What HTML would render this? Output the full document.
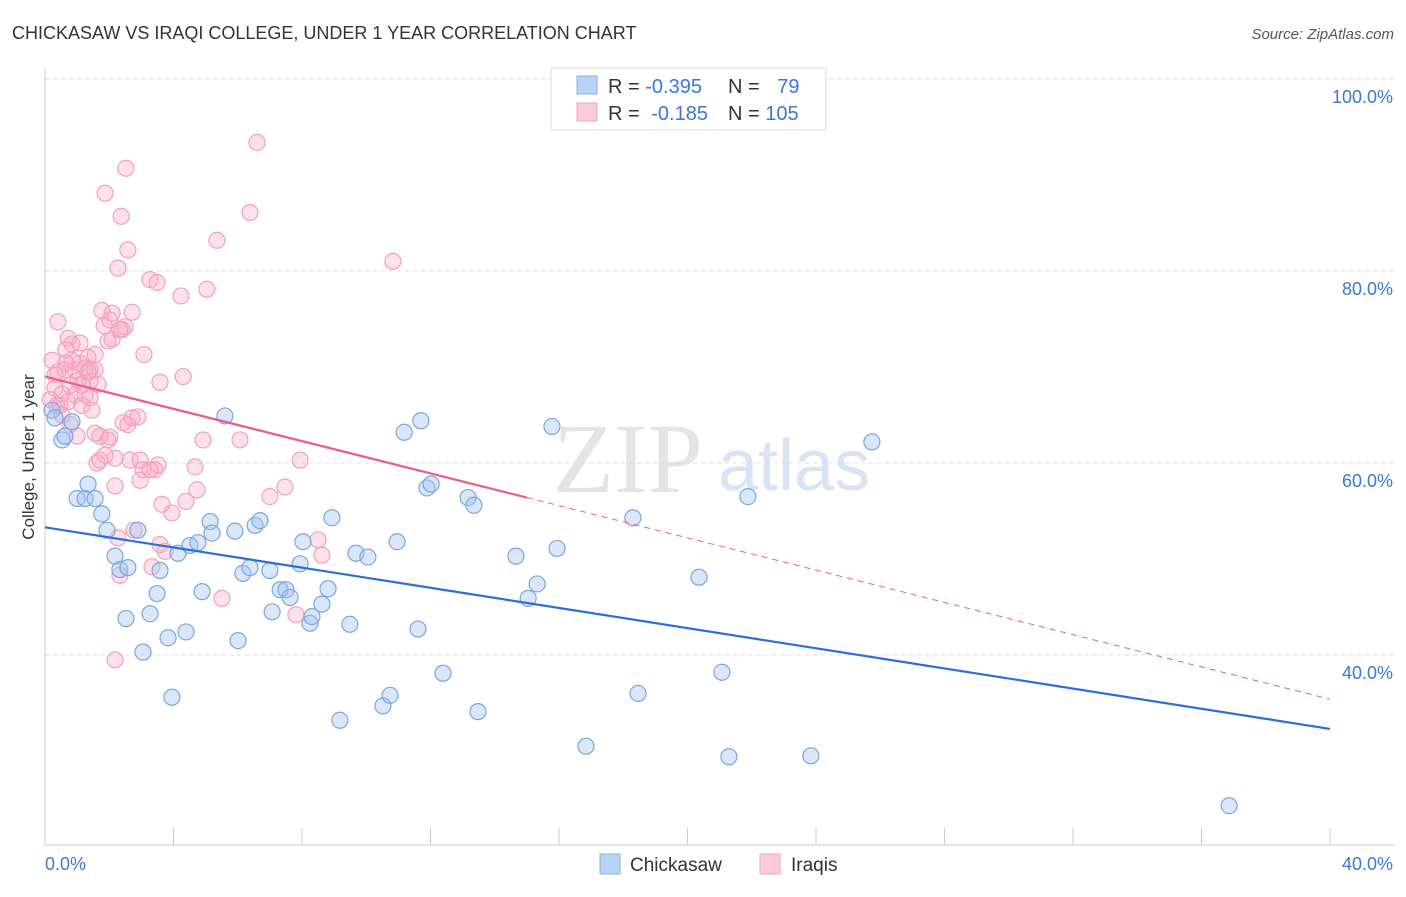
<!DOCTYPE html>
<html><head><meta charset="utf-8"><style>
body{margin:0;background:#fff;font-family:"Liberation Sans",sans-serif;}
</style></head><body>
<svg id="c" width="1406" height="892" xmlns="http://www.w3.org/2000/svg">
<text x="12" y="39" font-size="18" fill="#333">CHICKASAW VS IRAQI COLLEGE, UNDER 1 YEAR CORRELATION CHART</text>
<text x="1394" y="39" font-size="15" fill="#555" text-anchor="end" font-style="italic">Source: ZipAtlas.com</text>
<text x="553" y="492" font-size="100" fill="#e4e4e4" font-family="Liberation Serif,serif">ZIP</text>
<text x="718" y="490" font-size="72" fill="#d6e4f5">atlas</text>
<g id="grid"></g><g id="axes"></g><g id="pts"></g><g id="trend"></g>
<text transform="translate(34,457) rotate(-90)" font-size="17" fill="#333" text-anchor="middle">College, Under 1 year</text>
<g>
<rect x="551" y="68" width="275" height="62" fill="#fff" stroke="#ddd"/>
<rect x="577" y="76" width="20" height="18" fill="#b8d3f5" stroke="#8ab2e6"/>
<rect x="577" y="103" width="20" height="18" fill="#fccadb" stroke="#f3a3bf"/>
<text x="608" y="93" font-size="20" fill="#333">R = <tspan fill="#3b78d8">-0.395</tspan></text>
<text x="728" y="93" font-size="20" fill="#333">N = <tspan fill="#3b78d8" dx="12">79</tspan></text>
<text x="608" y="120" font-size="20" fill="#333">R = <tspan fill="#3b78d8" dx="6">-0.185</tspan></text>
<text x="728" y="120" font-size="20" fill="#333">N = <tspan fill="#3b78d8">105</tspan></text>
</g>
<g>
<rect x="600" y="854" width="20" height="20" fill="#b8d3f5" stroke="#8ab2e6"/>
<text x="630" y="871" font-size="19" fill="#333">Chickasaw</text>
<rect x="760" y="854" width="20" height="20" fill="#fccadb" stroke="#f3a3bf"/>
<text x="791" y="871" font-size="19" fill="#333">Iraqis</text>
</g>
</svg>
<script>
const bluePx=[[52,410],[55,418],[62,440],[65,436],[72,422],[77,499],[85,499],[88,484],[95,499],[102,514],[107,530],[115,556],[120,570],[128,568],[138,530],[126,619],[143,652],[150,614],[157,594],[160,571],[168,638],[172,697],[178,553],[186,632],[190,546],[198,543],[202,592],[210,522],[212,533],[225,416],[235,531],[238,641],[243,573],[250,568],[255,525],[260,521],[270,571],[272,612],[280,590],[286,590],[290,597],[300,564],[303,542],[310,623],[312,617],[322,604],[328,589],[332,518],[340,720],[350,624],[356,553],[368,557],[383,706],[390,695],[397,542],[404,432],[418,629],[421,421],[427,488],[431,484],[443,673],[468,498],[474,505],[478,712],[516,556],[528,598],[537,584],[552,427],[557,548],[586,746],[633,518],[638,693],[699,577],[722,672],[729,757],[748,497],[811,756],[872,442],[1229,806]];
const pinkPx=[[52,360],[55,375],[58,322],[55,388],[50,400],[57,405],[62,394],[66,363],[68,402],[70,425],[72,344],[75,370],[77,436],[80,343],[82,385],[85,368],[88,357],[90,381],[92,410],[95,370],[98,384],[97,463],[100,460],[102,310],[104,326],[105,193],[108,440],[110,437],[112,313],[112,339],[115,486],[118,538],[115,660],[118,268],[120,575],[121,216],[122,330],[125,327],[126,168],[128,250],[128,425],[130,460],[132,312],[134,530],[140,480],[143,470],[144,355],[150,280],[155,470],[157,283],[158,465],[160,382],[162,504],[165,551],[172,513],[181,296],[183,377],[186,501],[195,467],[197,490],[203,440],[207,289],[217,240],[222,598],[240,440],[250,212],[257,142],[270,497],[285,487],[296,615],[300,460],[318,540],[322,555],[393,261],[60,405],[65,370],[62,415],[75,395],[80,363],[85,395],[90,370],[95,355],[72,360],[108,341],[123,423],[132,418],[115,458],[110,320],[140,460],[152,567],[160,545],[105,455],[68,338],[78,380],[88,372],[120,330],[100,436],[95,433],[138,417],[150,470],[90,398],[70,385],[58,372],[66,350],[82,405]];
const blueX=bluePx.map(p=>+((p[0]-45)/32.125).toFixed(2));
const blueY=bluePx.map(p=>+((1039-p[1])/9.6).toFixed(1));
const pinkX=pinkPx.map(p=>+((p[0]-45)/32.125).toFixed(2));
const pinkY=pinkPx.map(p=>+((1039-p[1])/9.6).toFixed(1));
const yTicks=[100,80,60,40];
const yTickLabels=["100.0%","80.0%","60.0%","40.0%"];
const xTicks=[0,4,8,12,16,20,24,28,32,36,40];
const blueTrend=[[0,53.3],[40,32.3]];
const pinkTrend=[[0,69.0],[15,56.4],[40,35.4]];
const sx=v=>45+v*32.125, sy=v=>1039-v*9.6;
const NS="http://www.w3.org/2000/svg";
function mk(t,a,parent){const e=document.createElementNS(NS,t);for(const k in a)e.setAttribute(k,a[k]);document.getElementById(parent).appendChild(e);return e;}
yTicks.forEach((v,i)=>{
 const l=mk('line',{x1:45,x2:1394,y1:sy(v),y2:sy(v),stroke:'#ddd','stroke-dasharray':'4,4'},'grid');
 
 
 const t=mk('text',{x:1393,y:sy(v)+24,'font-size':18,fill:'#3b78d8','text-anchor':'end'},'axes');t.textContent=yTickLabels[i];
 
 
});
mk('line',{x1:45,x2:45,y1:68,y2:845,stroke:'#ccc'},'axes');
mk('line',{x1:45,x2:1394,y1:845,y2:845,stroke:'#ccc'},'axes');
xTicks.forEach(v=>{const l=mk('line',{x1:sx(v),x2:sx(v),y1:828,y2:845,stroke:'#ccc'},'axes');
 
 });
let t=mk('text',{x:45,y:870,'font-size':18,fill:'#3b78d8'},'axes');t.textContent='0.0%';


t=mk('text',{x:1393,y:870,'font-size':18,fill:'#3b78d8','text-anchor':'end'},'axes');t.textContent='40.0%';


pinkX.forEach((x,i)=>{const c=mk('circle',{cx:sx(x),cy:sy(pinkY[i]),r:8,fill:'rgba(248,170,196,0.35)',stroke:'#f3a0bd','stroke-width':1.2},'pts');
 
 });
blueX.forEach((x,i)=>{const c=mk('circle',{cx:sx(x),cy:sy(blueY[i]),r:8,fill:'rgba(160,196,240,0.4)',stroke:'#7aa6e0','stroke-width':1.2},'pts');
 
 });
let L=mk('line',{x1:sx(blueTrend[0][0]),y1:sy(blueTrend[0][1]),x2:sx(blueTrend[1][0]),y2:sy(blueTrend[1][1]),stroke:'#2a6fd6','stroke-width':2.2},'trend');


L=mk('line',{x1:sx(pinkTrend[0][0]),y1:sy(pinkTrend[0][1]),x2:sx(pinkTrend[1][0]),y2:sy(pinkTrend[1][1]),stroke:'#e8608a','stroke-width':2.2},'trend');


L=mk('line',{x1:sx(pinkTrend[1][0]),y1:sy(pinkTrend[1][1]),x2:sx(pinkTrend[2][0]),y2:sy(pinkTrend[2][1]),stroke:'#e8608a','stroke-width':1,'stroke-dasharray':'6,5'},'trend');


</script>
</body></html>
